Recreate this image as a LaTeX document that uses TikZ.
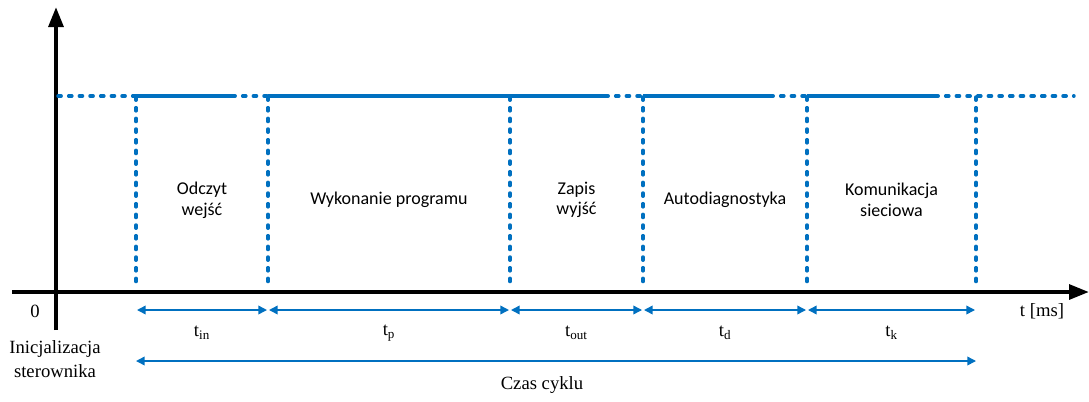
\documentclass[tikz,border=0pt]{standalone}
\usepackage{fontspec}
\setmainfont{Liberation Serif}
\newfontfamily\lblfont{Carlito}
\usetikzlibrary{arrows.meta}
\definecolor{plcblue}{HTML}{0070C0}
\begin{document}
\begin{tikzpicture}[x=0.75pt,y=-0.75pt,
  axis/.style={line width=3pt,-{Triangle[length=15pt,width=11pt]}},
  level/.style={plcblue,line width=2.6pt},
  dashlevel/.style={plcblue,line width=2.6pt,line cap=round,dash pattern=on 2.4pt off 5.6pt},
  bound/.style={plcblue,line width=2.6pt,line cap=round,dash pattern=on 2.4pt off 5.6pt},
  span/.style={plcblue,line width=1.1pt,{Triangle[length=6.5pt,width=6.5pt]}-{Triangle[length=6.5pt,width=6.5pt]}},
  phase/.style={font=\lblfont\fontsize{13.5}{15.5}\selectfont,align=center},
  serif/.style={font=\fontsize{14}{18}\selectfont,align=center},
]
\useasboundingbox (0,0) rectangle (1089,401);

% time axes
\coordinate (ybot) at (56,330);
\coordinate (ytop) at (56,7);
\coordinate (xl) at (12,292);
\coordinate (xr) at (1089,292);
\draw[axis] (ybot) -- (ytop);
\draw[axis] (xl) -- (xr);

% phase boundaries on the signal level and on the time axis
\foreach \n/\x in {0/136,1/268,2/510,3/643,4/807,5/976}{
  \coordinate (t\n) at (\x,97);
  \coordinate (a\n) at (\x,287);
  \coordinate (l\n) at (\x,310);
  \coordinate (c\n) at (\x,361);
}
\foreach \n in {0,...,5}{\draw[bound] (t\n) -- (a\n);}

% signal level: solid while a phase runs, dotted before the next one
\coordinate (s0) at (58,96);
\coordinate (e0) at (232,96);
\coordinate (e1) at (605,96);
\coordinate (e3) at (770,96);
\coordinate (e4) at (935,96);
\coordinate (send) at (1074,96);
\foreach \n in {0,1,3,4}{\coordinate (h\n) at (t\n |- s0);}
\draw[dashlevel] (s0) -- (h0);
\draw[level] (h0) -- (e0);
\draw[dashlevel] (e0) -- (h1);
\draw[level] (h1) -- (e1);
\draw[dashlevel] (e1) -- (h3);
\draw[level] (h3) -- (e3);
\draw[dashlevel] (e3) -- (h4);
\draw[level] (h4) -- (e4);
\draw[dashlevel] (e4) -- (send);

% phase names
\node[phase] (p0) at (202,200) {Odczyt\\wejść};
\node[phase] (p1) at (389,200) {Wykonanie programu};
\node[phase] (p2) at (576.5,200) {Zapis\\wyjść};
\node[phase] (p3) at (725,200) {Autodiagnostyka};
\node[phase] (p4) at (891.5,200) {Komunikacja\\sieciowa};

% phase durations
\draw[span] ([xshift=0.75pt]l0) -- ([xshift=-0.75pt]l1);
\draw[span] ([xshift=0.75pt]l1) -- ([xshift=-0.75pt]l2);
\draw[span] ([xshift=0.75pt]l2) -- ([xshift=-0.75pt]l3);
\draw[span] ([xshift=0.75pt]l3) -- ([xshift=-0.75pt]l4);
\draw[span] ([xshift=0.75pt]l4) -- ([xshift=-0.75pt]l5);
\node[serif] (d0) at (202,333) {t\textsubscript{in}};
\node[serif] (d1) at (389,333) {t\textsubscript{p}};
\node[serif] (d2) at (576.5,333) {t\textsubscript{out}};
\node[serif] (d3) at (725,333) {t\textsubscript{d}};
\node[serif] (d4) at (891.5,333) {t\textsubscript{k}};

% whole cycle
\draw[span] (c0) -- (c5);
\node[serif] (cyc) at (542,385) {Czas cyklu};

% axis labels
\node[serif] (zero) at (35,311) {0};
\node[serif] (tms) at (1042,311) {t [ms]};
\node[serif] (init) at (55,359) {Inicjalizacja\\sterownika};
\end{tikzpicture}
\end{document}
